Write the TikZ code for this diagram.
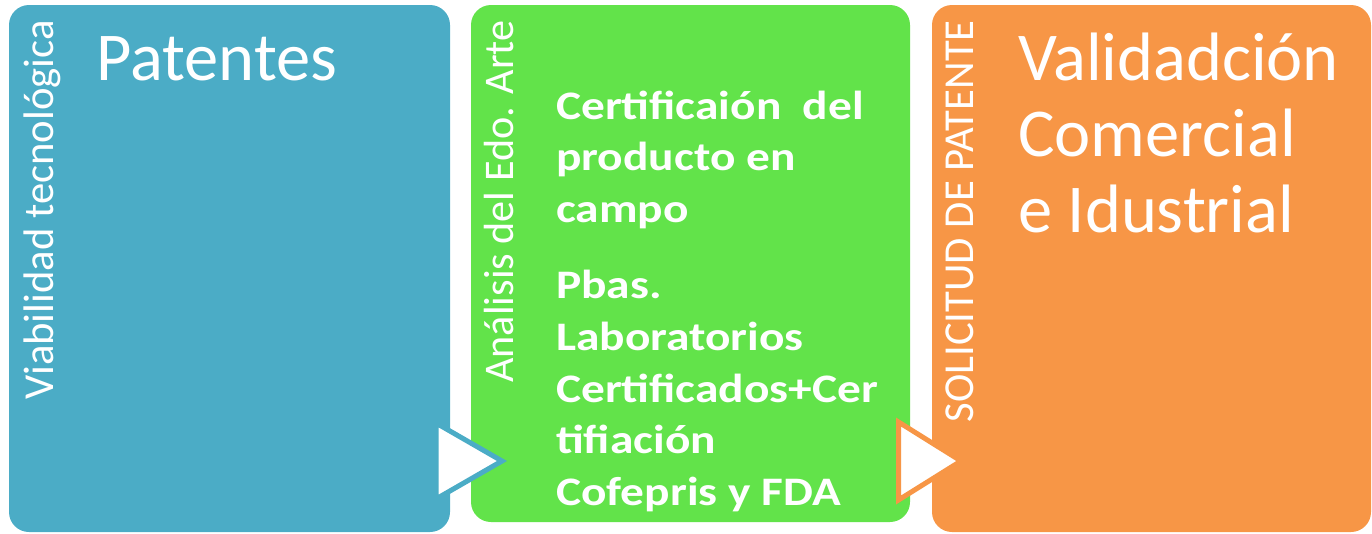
\documentclass[tikz,border=0pt]{standalone}
\usepackage{fontspec}
\setmainfont{Carlito}
\definecolor{cblue}{HTML}{4BACC6}
\definecolor{cgreen}{HTML}{62E34A}
\definecolor{corange}{HTML}{F79646}
\begin{document}
\begin{tikzpicture}[x=1pt,y=-1pt,
  panel/.style={rounded corners=20pt},
  vlabel/.style={rotate=90, anchor=base east, inner sep=0pt, text=white, font=\fontsize{42.7}{50}\selectfont},
  bigtext/.style={anchor=base west, inner sep=0pt, text=white, font=\fontsize{68.5}{76}\selectfont},
  boldtext/.style={anchor=base west, inner sep=0pt, text=white, xscale=1.17, font=\fontsize{40.5}{48}\selectfont\bfseries},
  chevron/.style={fill=white, line width=5pt, line join=miter},
]
\useasboundingbox (0,0) rectangle (1372,533);
% panels
\fill[cblue, panel] (9,5) rectangle (450,532);
\fill[cgreen, panel] (471,5) rectangle (910,522);
\fill[corange, panel] (932,5) rectangle (1371,532);
% arrows
\filldraw[chevron, draw=cblue] (436,423) -- (502,461) -- (436,499) -- cycle;
\filldraw[chevron, draw=corange] (898.5,422) -- (961,461) -- (898.5,500) -- cycle;
% vertical labels
\node[vlabel] (v1) at (53,20) {Viabilidad tecnológica};
\node[vlabel, font=\fontsize{42.2}{50}\selectfont] (v2) at (513,20) {Análisis del Edo. Arte};
\node[vlabel] (v3) at (973,20) {SOLICITUD DE PATENTE};
% blue panel
\node[bigtext] (pat) at (96,80) {Patentes};
% green panel
\node[boldtext] (g1) at (556,119) {Certificaión\ \ del};
\node[boldtext] (g2) at (556,170.7) {producto en};
\node[boldtext] (g3) at (556,222.4) {campo};
\node[boldtext] (g4) at (556,298) {Pbas.};
\node[boldtext] (g5) at (556,350) {Laboratorios};
\node[boldtext] (g6) at (556,402) {Certificados+Cer};
\node[boldtext] (g7) at (556,453.5) {tifiación};
\node[boldtext] (g8) at (556,505) {Cofepris y FDA};
% orange panel
\node[bigtext] (o1) at (1018,80) {Validadción};
\node[bigtext] (o2) at (1018,156) {Comercial};
\node[bigtext] (o3) at (1018,232) {e Idustrial};
\end{tikzpicture}
\end{document}
